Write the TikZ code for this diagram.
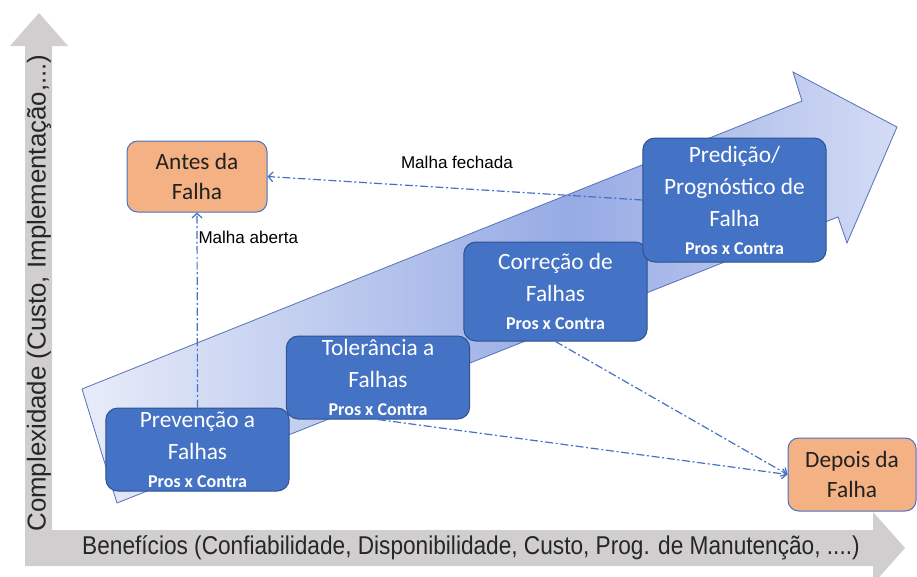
\documentclass[tikz,border=0pt]{standalone}
\usepackage{fontspec}
\setmainfont{Carlito}
\newfontfamily\arialfont{Liberation Sans}
\newfontfamily\arialestreita[FakeStretch=0.88]{Liberation Sans}
\usetikzlibrary{arrows.meta}

\definecolor{cinzaeixo}{RGB}{208,206,206}
\definecolor{azulfase}{RGB}{68,114,196}
\definecolor{azulborda}{RGB}{47,82,143}
\definecolor{laranja}{RGB}{244,177,131}
\definecolor{setaclara}{RGB}{232,236,249}
\definecolor{setamedia}{RGB}{150,170,228}
\definecolor{setafim}{RGB}{212,220,245}
\definecolor{setaborda}{RGB}{84,112,182}

\pgfdeclarehorizontalshading{setagrad}{100bp}{color(0bp)=(setaclara); color(25bp)=(setaclara); color(55bp)=(setamedia); color(75bp)=(setafim); color(100bp)=(setafim)}

\tikzset{every picture/.style={line width=0.75pt}}
\tikzset{
  fase/.style={draw=azulborda, fill=azulfase, rounded corners=9pt, text=white, align=center,
    inner sep=0pt, minimum width=137.5pt, font=\fontsize{17.5}{24}\selectfont},
  estado/.style={draw=azulfase, fill=laranja, rounded corners=8pt, text={rgb,255:red,33;green,33;blue,33},
    align=center, inner sep=0pt, font=\fontsize{17.5}{23}\selectfont},
  malha/.style={draw=azulfase, line width=0.9pt, dash pattern=on 6pt off 2pt on 1.5pt off 2pt,
    -{Straight Barb[length=3.5pt,width=7.5pt]}},
  rotulo/.style={font=\arialfont\fontsize{12.8}{14}\selectfont, text=black, inner sep=0pt},
  eixo/.style={text={rgb,255:red,38;green,38;blue,38}, inner sep=0pt}
}
\newcommand{\proscontra}{{\fontsize{13.5}{16}\selectfont\bfseries Pros x Contra}}

\begin{document}
\begin{tikzpicture}[x=0.75pt,y=0.75pt,yscale=-1,xscale=1]

\useasboundingbox (0,0) rectangle (917,576);
\clip (0,0) rectangle (917,576);

%Axes (L-shaped double arrow)
\fill [cinzaeixo] (39,13) -- (68,46) -- (52,46) -- (52,530) -- (873,530) -- (873,512) -- (905,548) -- (873,584) -- (873,566) -- (25,566) -- (25,46) -- (10,46) -- cycle ;

%Big arrow
\draw [draw=setaborda, line width=0.6pt, shading=setagrad] (82,389) -- (802,101) -- (793,72) -- (897,127) -- (847,243) -- (838,217) -- (117,503) -- cycle ;

% Text Node
\node [eixo, rotate=90, font=\arialfont\fontsize{19.4}{22}\selectfont] (complexidade) at (39,293) {Complexidade (Custo, Implementação,...)};
% Text Node
\node [eixo, font=\arialestreita\fontsize{19.3}{22}\selectfont] (beneficios) at (471,548) {Benefícios (Confiabilidade, Disponibilidade, Custo, Prog. de Manutenção, ....)};

%Rounded Rect
\node [fase, minimum height=62.25pt] (prevencao) at (197.5,449.5) {Prevenção a\\Falhas\\[-3pt]\proscontra};
%Rounded Rect
\node [fase, minimum height=62.25pt] (tolerancia) at (378,377.5) {Tolerância a\\Falhas\\[-3pt]\proscontra};
%Rounded Rect
\node [fase, minimum height=74.25pt] (correcao) at (555.5,291.5) {Correção de\\Falhas\\[-3pt]\proscontra};
%Rounded Rect
\node [fase, minimum height=93pt] (predicao) at (734.5,200) {Predição/\\Prognóstico de\\Falha\\[-3pt]\proscontra};

%Rounded Rect
\node [estado, minimum width=105pt, minimum height=53.25pt] (antes) at (197,176.5) {Antes da\\Falha};
%Rounded Rect
\node [estado, minimum width=96pt, minimum height=54.75pt] (depois) at (852,474.5) {Depois da\\Falha};

%Straight Lines
\draw [malha] (predicao.west) -- (antes.east) ;
\draw [malha] (prevencao.north) -- (antes.south) ;
\draw [malha] (tolerancia.south) -- (depois.west) ;
\draw [malha] (correcao.south) -- (depois.west) ;

% Text Node
\node [rotulo] (fechada) at (457,162) {Malha fechada};
% Text Node
\node [rotulo, anchor=west] (aberta) at (198,237) {Malha aberta};

\end{tikzpicture}
\end{document}
